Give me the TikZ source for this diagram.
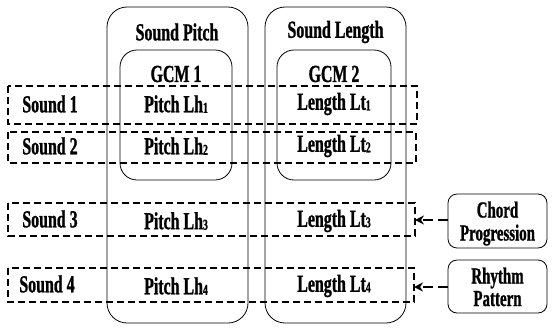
\documentclass[tikz,border=0pt]{standalone}
\usepackage{fontspec}
\newfontfamily\lbfont{Liberation Serif Bold}[FakeStretch=0.65,FakeBold=1]
\usetikzlibrary{arrows.meta}
\newcommand{\sbs}[1]{\raisebox{-0.5pt}{\fontsize{15}{15}\selectfont #1}}
\begin{document}
\begin{tikzpicture}[x=1pt,y=-1pt,
  txt/.style={font=\lbfont\fontsize{24.5}{22}\selectfont, inner sep=0pt, align=center},
  sidetxt/.style={font=\lbfont\fontsize{23}{22}\selectfont, inner sep=0pt, anchor=base, text height=15pt, text depth=4pt},
  bigbox/.style={draw, line width=0.8pt, rounded corners=20pt},
  gcmbox/.style={draw, line width=0.8pt, rounded corners=17pt},
  rowbox/.style={draw, line width=2.3pt, dash pattern=on 7pt off 4pt},
  sidebox/.style={draw, line width=0.8pt, rounded corners=9pt},
  feed/.style={line width=2.8pt, dash pattern=on 10pt off 5pt, -{Stealth[length=9pt,width=9pt]}}
]
\useasboundingbox (0,0) rectangle (556,327);
% columns
\draw[bigbox] (107,7) rectangle (248,323);
\draw[bigbox] (265,7) rectangle (406,323);
\node[txt] (sp) at (177,32) {Sound Pitch};
\node[txt] (sl) at (335.5,32) {Sound Length};
\draw[gcmbox] (120,50) rectangle (232,180);
\draw[gcmbox] (277,50) rectangle (391,180);
\node[txt] (g1) at (176,74) {GCM 1};
\node[txt] (g2) at (334,74) {GCM 2};
% rows
\coordinate (r1a) at (8,86); \coordinate (r1b) at (417,124);
\coordinate (r2a) at (8,132); \coordinate (r2b) at (416,163);
\coordinate (r3a) at (8,203); \coordinate (r3b) at (415,236);
\coordinate (r4a) at (8,268); \coordinate (r4b) at (414,302);
\draw[rowbox] (r1a) rectangle (r1b);
\draw[rowbox] (r2a) rectangle (r2b);
\draw[rowbox] (r3a) rectangle (r3b);
\draw[rowbox] (r4a) rectangle (r4b);
\coordinate (r3e) at (415,219.5);
\coordinate (r4e) at (414,285);
% row texts
\node[txt] (s1) at (50,104) {Sound 1};
\node[txt] (p1) at (176,104) {Pitch Lh\sbs{1}};
\node[txt] (l1) at (334,104) {Length Lt\sbs{1}};
\node[txt] (s2) at (50,146) {Sound 2};
\node[txt] (p2) at (176,146) {Pitch Lh\sbs{2}};
\node[txt] (l2) at (334,146) {Length Lt\sbs{2}};
\node[txt] (s3) at (50,219) {Sound 3};
\node[txt] (p3) at (176,221) {Pitch Lh\sbs{3}};
\node[txt] (l3) at (334,221) {Length Lt\sbs{3}};
\node[txt] (s4) at (47,284) {Sound 4};
\node[txt] (p4) at (176,286) {Pitch Lh\sbs{4}};
\node[txt] (l4) at (334,286) {Length Lt\sbs{4}};
% side boxes
\draw[sidebox] (448,194) rectangle (547,248);
\draw[sidebox] (448,260) rectangle (547,313);
\node[sidetxt] (cp1) at (497.5,217.5) {Chord};
\node[sidetxt] (cp2) at (497.5,240.5) {Progression};
\node[sidetxt] (rp1) at (497.5,283.5) {Rhythm};
\node[sidetxt] (rp2) at (497.5,306) {Pattern};
\coordinate (cpw) at (448,220);
\coordinate (rpw) at (448,287);
\draw[feed] (cpw) -- (r3e |- cpw);
\draw[feed] (rpw) -- (r4e |- rpw);
\end{tikzpicture}
\end{document}
